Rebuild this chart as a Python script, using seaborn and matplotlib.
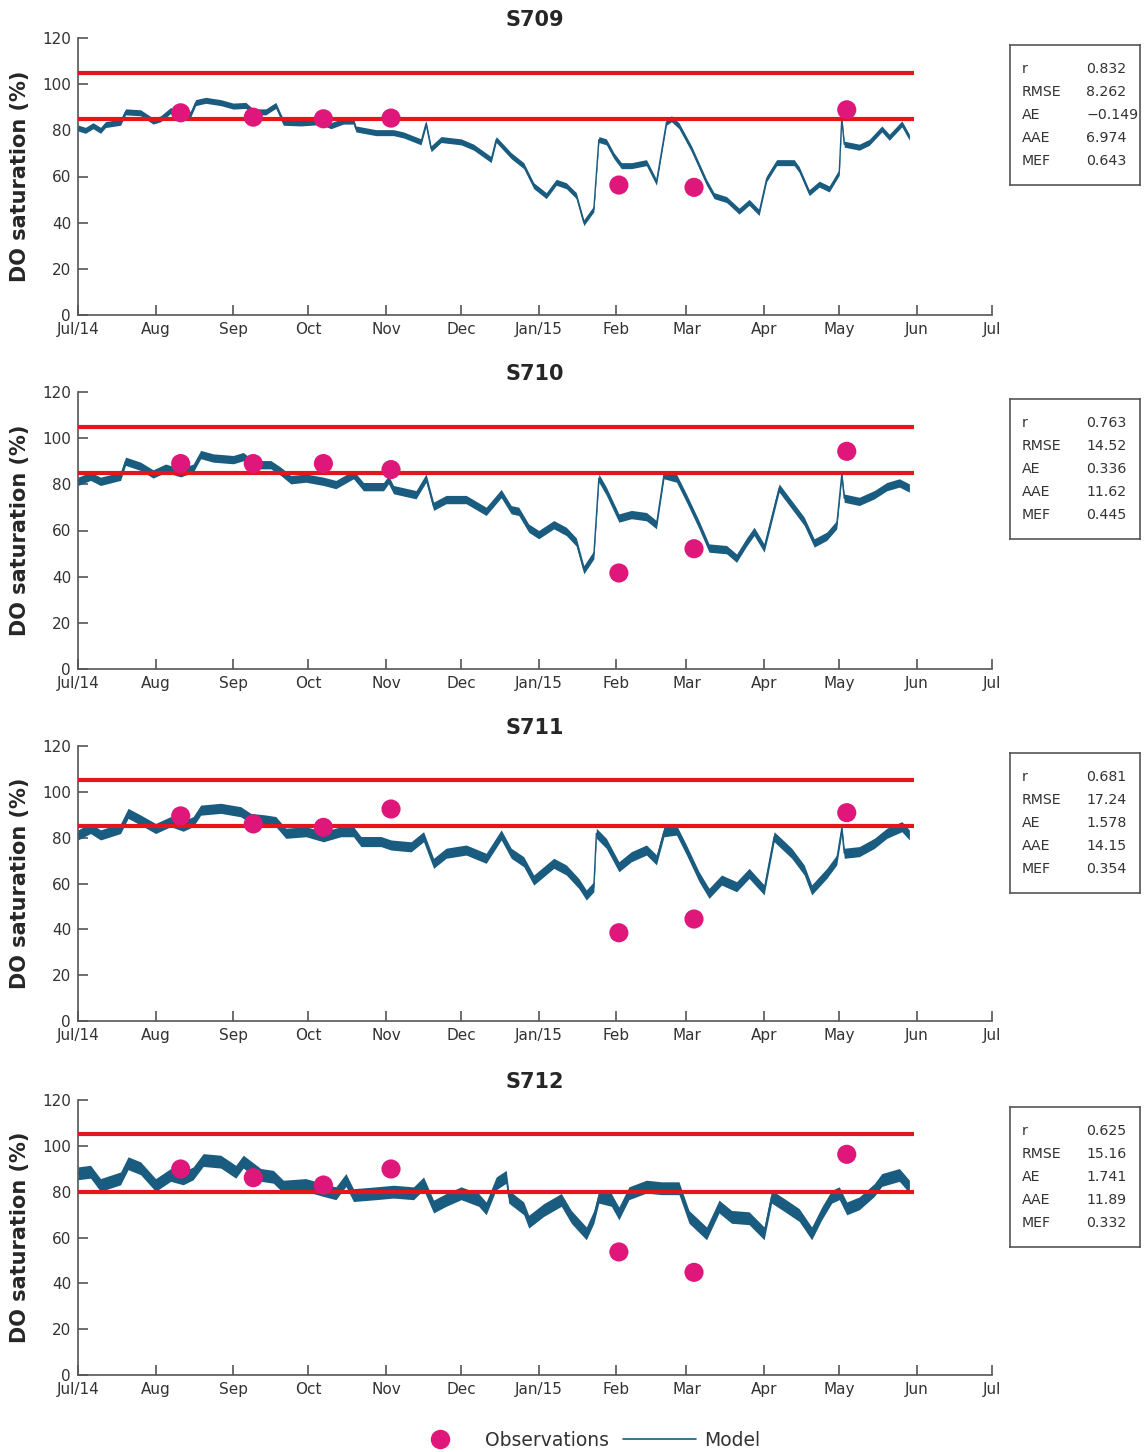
import matplotlib
matplotlib.use("Agg")
import matplotlib.pyplot as plt
from matplotlib.lines import Line2D
import seaborn as sns
import pandas as pd

# ---- data ----
stations = ["S709", "S710", "S711", "S712"]

# model series: day offset from 2014-07-01, DO saturation (%)
days_709 = [0, 3, 6, 9, 11, 17, 19, 25, 30, 33, 37, 41, 45, 47, 51, 57, 62, 67, 70, 75, 79, 82, 89, 97, 101,
            106, 110, 111, 119, 126, 130, 137, 139, 141, 145, 153, 158, 165, 167, 173, 178, 182, 187, 191, 195,
            199, 202, 206, 208, 211, 214, 217, 221, 227, 231, 235, 237, 240, 245, 251, 254, 259, 264, 268, 272,
            275, 279, 286, 288, 292, 296, 300, 304, 305, 306, 312, 316, 321, 324, 329, 332]
vals_709 = [81, 80, 82, 80, 82.5, 83.5, 88, 87.6, 84, 85, 88.6, 85.7, 87, 92, 93, 92, 90.5, 90.8, 88, 88,
            90.8, 83.5, 83.2, 83.8, 82, 84, 84, 80.6, 79, 79, 78, 75, 83, 72, 76, 75, 72.7, 67.3, 76, 69,
            64.7, 56, 51.7, 57.5, 56, 51.7, 40, 46, 76, 75, 69, 64.7, 64.7, 66, 57.5, 83.5, 85, 82, 72, 57.5,
            51.7, 50, 45, 48.8, 44.4, 59, 66, 66, 63, 53, 56.7, 54.6, 61.8, 85, 74, 72.7, 74.8, 80.6, 77, 82.8, 77]

days_710 = [0, 5, 9, 17, 19, 25, 30, 35, 41, 46, 49, 54, 62, 66, 70, 77, 81, 85, 91, 98, 103, 110, 114, 122,
            124, 126, 135, 139, 142, 147, 155, 163, 169, 173, 176, 180, 184, 190, 195, 199, 202, 206, 208, 211,
            216, 221, 227, 231, 234, 239, 243, 248, 252, 259, 263, 267, 270, 274, 280, 285, 290, 294, 299, 303,
            305, 306, 312, 318, 323, 328, 332]
vals_710 = [81.3, 83.5, 81.3, 83.5, 90, 87.8, 84.5, 87, 85, 87, 92.9, 91.4, 90.7, 92, 88.5, 88.5, 85.6, 82,
            82.7, 81.3, 79.9, 84.2, 79, 79, 82, 77.7, 75.5, 82.7, 70.5, 73.4, 73.4, 68.3, 76, 69, 68.3, 61,
            58.2, 62.5, 59.6, 55, 43, 49.5, 82.7, 77, 65.4, 66.9, 66, 62.5, 84.2, 82.7, 74, 62.5, 52.4, 51.7,
            48, 55, 59.6, 52.4, 78.4, 71.2, 64, 54.6, 57.5, 62.5, 84.2, 74, 72.6, 75.5, 79, 80.6, 78.4]

days_711 = [0, 5, 9, 17, 20, 25, 31, 37, 42, 46, 49, 57, 65, 69, 75, 79, 83, 91, 98, 105, 110, 113, 121, 125,
            133, 138, 142, 147, 155, 163, 169, 173, 178, 182, 190, 195, 200, 203, 206, 207, 211, 216, 221, 227,
            231, 234, 239, 243, 248, 252, 257, 263, 268, 274, 278, 285, 290, 293, 299, 303, 305, 306, 312, 318,
            323, 329, 332]
vals_711 = [81.2, 84, 81.2, 84, 90.6, 87.7, 84, 87, 85, 87, 92, 92.8, 91.3, 88.4, 87.7, 87, 81.9, 82.6, 80.4,
            82.6, 82.6, 78.3, 78.3, 76.8, 76, 80.4, 68.8, 73.2, 74.6, 71, 81.2, 73.2, 69.5, 61.5, 68.8, 65.9,
            60, 55, 58.6, 81.9, 77.5, 67.3, 71.7, 74.6, 70.3, 82.6, 83.3, 74.6, 63, 55.7, 61.5, 58.6, 64.4,
            57.2, 80.4, 73.2, 65.9, 57.2, 64.4, 70.3, 84, 73.2, 73.9, 77.5, 81.9, 84.8, 81.2]

days_712 = [0, 5, 9, 17, 20, 25, 31, 37, 42, 46, 50, 57, 63, 66, 73, 78, 82, 91, 98, 103, 107, 110, 119, 126,
            134, 138, 142, 147, 153, 160, 163, 167, 171, 172, 178, 180, 186, 193, 197, 203, 206, 208, 213, 216,
            220, 227, 233, 240, 244, 251, 256, 261, 268, 274, 277, 283, 288, 293, 297, 301, 304, 307, 312, 318,
            321, 328, 332]
vals_712 = [88, 88.7, 82.9, 85.8, 92.4, 90.2, 82.9, 87.3, 85.8, 88, 93.8, 93.1, 88.7, 93.1, 87.3, 86.5, 82.2,
            82.9, 80.7, 79.3, 85.1, 78.5, 79.3, 80, 79.3, 83.6, 73.5, 76.4, 79.3, 76.4, 72.7, 83.6, 86.5, 77.8,
            72.7, 66.9, 72, 76.4, 69, 61.8, 69, 77.8, 76.4, 70.5, 79.3, 82.2, 81.5, 81.5, 69, 61.8, 73.5, 69,
            68.4, 61.8, 77.8, 73.5, 69.8, 61.8, 70.5, 77.8, 79.3, 72.7, 74.9, 80.7, 85.1, 87.3, 82.2]

# rough half-width of the daily cycle seen in each model trace
daily_swing = [1.3, 1.8, 2.2, 2.8]

# observations
obs_dates = ["2014-08-11", "2014-09-09", "2014-10-07", "2014-11-03", "2015-02-02", "2015-03-04", "2015-05-04"]
obs_709 = [87.6, 85.7, 85.0, 85.3, 56.3, 55.3, 88.9]
obs_710 = [89.0, 89.0, 89.0, 86.4, 41.6, 52.1, 94.3]
obs_711 = [89.5, 86.0, 84.5, 92.5, 38.5, 44.5, 90.9]
obs_712 = [89.9, 86.1, 82.9, 89.9, 53.7, 44.8, 96.3]

# thresholds (upper, lower)
upper = [105, 105, 105, 105]
lower = [85, 85, 85, 80]

stat_names = ["r", "RMSE", "AE", "AAE", "MEF"]
stats_709 = ["0.832", "8.262", "\u22120.149", "6.974", "0.643"]
stats_710 = ["0.763", "14.52", "0.336", "11.62", "0.445"]
stats_711 = ["0.681", "17.24", "1.578", "14.15", "0.354"]
stats_712 = ["0.625", "15.16", "1.741", "11.89", "0.332"]

month_labels = ["Jul/14", "Aug", "Sep", "Oct", "Nov", "Dec", "Jan/15", "Feb", "Mar", "Apr", "May", "Jun", "Jul"]

model_days = [days_709, days_710, days_711, days_712]
model_vals = [vals_709, vals_710, vals_711, vals_712]
obs_vals = [obs_709, obs_710, obs_711, obs_712]
stats_vals = [stats_709, stats_710, stats_711, stats_712]

# ---- styling ----
sns.set_theme(style="ticks")
plt.rcParams["font.family"] = ["DejaVu Sans"]

MODEL_C = "#1a5b80"
OBS_C = "#e0177a"
RED = "#e5151c"
AX_C = "#555555"
TXT_C = "#333333"

START = pd.Timestamp("2014-07-01")
END_THR = pd.Timestamp("2015-05-31")
month_ticks = pd.date_range("2014-07-01", "2015-07-01", freq="MS")

W, H = 1144, 1452
tops = [38, 392, 746, 1100]
bots = [315, 669, 1021, 1375]

fig = plt.figure(figsize=(W / 100, H / 100), dpi=100)

for i, st in enumerate(stations):
    ax = fig.add_axes([78 / W, 1 - bots[i] / H, 914 / W, (bots[i] - tops[i]) / H])
    df = pd.DataFrame({
        "date": START + pd.to_timedelta(model_days[i], unit="D"),
        "DO": model_vals[i],
    })
    ax.fill_between(df["date"], df["DO"] - daily_swing[i], df["DO"] + daily_swing[i],
                    color=MODEL_C, lw=0, zorder=2)
    sns.lineplot(data=df, x="date", y="DO", ax=ax, color=MODEL_C, lw=1.0, zorder=3)

    ax.hlines([upper[i], lower[i]], START, END_THR, colors=RED, lw=3, zorder=4)

    odf = pd.DataFrame({"date": pd.to_datetime(obs_dates), "DO": obs_vals[i]})
    sns.scatterplot(data=odf, x="date", y="DO", ax=ax, color=OBS_C, s=190,
                    edgecolor="none", zorder=5)

    ax.set_xlim(START, pd.Timestamp("2015-07-01"))
    ax.set_ylim(0, 120)
    ax.set_xticks(month_ticks)
    ax.set_xticklabels(month_labels)
    ax.set_yticks(range(0, 121, 20))
    ax.tick_params(direction="in", length=7, width=1.2, color=AX_C,
                   labelcolor=TXT_C, labelsize=11, pad=5)
    for s in ["top", "right"]:
        ax.spines[s].set_visible(False)
    for s in ["left", "bottom"]:
        ax.spines[s].set_color(AX_C)
        ax.spines[s].set_linewidth(1.2)
    ax.set_xlabel("")
    ax.set_ylabel("DO saturation (%)", fontsize=15, fontweight="bold", labelpad=9)
    ax.set_title(st, fontsize=15, fontweight="bold", pad=9)

    # stats box
    bx = fig.add_axes([1010 / W, 1 - (tops[i] + 147) / H, 130 / W, 140 / H])
    bx.set_xticks([])
    bx.set_yticks([])
    for s in bx.spines.values():
        s.set_color(AX_C)
        s.set_linewidth(1.2)
    for k, (nm, v) in enumerate(zip(stat_names, stats_vals[i])):
        yy = 1 - (24 + 23 * k) / 140
        bx.text(0.09, yy, nm, fontsize=10.2, color=TXT_C, va="center", ha="left")
        bx.text(0.585, yy, v, fontsize=10.2, color=TXT_C, va="center", ha="left")

handles = [
    Line2D([], [], marker="o", ls="none", color=OBS_C, markersize=13),
    Line2D([], [], color=MODEL_C, lw=1.2),
]
fig.legend(handles, ["Observations", "Model"], loc="center", bbox_to_anchor=(582 / W, 1 - 1440 / H),
           ncol=2, frameon=False, fontsize=13.5, handlelength=3.9, handletextpad=0.45, columnspacing=0.7,
           labelcolor=TXT_C)

fig.savefig("out.png", dpi=100)
